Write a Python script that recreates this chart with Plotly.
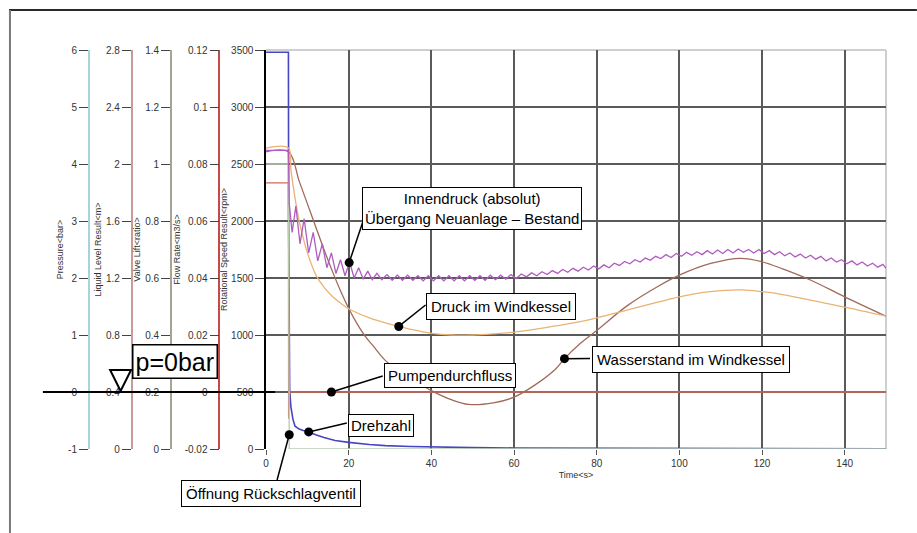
import plotly.graph_objects as go

# ---------------- data ----------------
# Rotational speed (rpm)
speed_t = [0, 5.4, 5.45, 5.55, 5.7, 6.0, 6.5, 7.0, 8.0, 9.0, 10.3, 12, 14, 16.7, 20, 25, 28.8, 35, 40, 50, 60, 80, 100, 120, 150]
speed_rpm = [3480, 3480, 2000, 900, 520, 370, 260, 200, 175, 162, 150, 125, 100, 75, 58, 40, 30, 22, 18, 12, 9, 6, 4, 3, 2]

# Pump flow rate (m3/s)
flow_t = [0, 5.4, 5.45, 5.6, 150]
flow_q = [0.0734, 0.0734, -0.0093, 0.0, 0.0]

# Check valve lift (ratio)
lift_t = [0, 5.4, 5.6, 150]
lift_r = [1.0, 1.0, 0.0, 0.0]

# Water level in air vessel (m)
level_t = [0, 5.4, 8, 10, 12, 14, 16, 18, 20, 22, 24, 26, 28.9, 32, 36, 40, 45, 49, 55, 60, 65, 70, 72.2, 76,
           80, 87.5, 95, 100, 107.6, 114.8, 120, 125, 131.7, 140, 150]
level_m = [2.086, 2.086, 1.88, 1.72, 1.56, 1.40, 1.25, 1.11, 0.986, 0.88, 0.79, 0.72, 0.62, 0.55, 0.48, 0.41,
           0.344, 0.313, 0.324, 0.364, 0.448, 0.56, 0.634, 0.74, 0.832, 1.008, 1.144, 1.22, 1.302, 1.338,
           1.314, 1.264, 1.186, 1.068, 0.932]

# Pressure in air vessel (bar)
vessel_t = [0, 5.4, 6, 7, 8, 9, 10, 12, 14, 16, 18, 20, 25, 30, 35, 40, 45, 50, 55, 60, 65, 70, 75, 80,
            87.5, 95, 100, 107.5, 115, 120, 125, 131.7, 140, 150]
vessel_bar = [4.28, 4.28, 3.90, 3.40, 3.00, 2.70, 2.44, 2.06, 1.84, 1.68, 1.56, 1.46, 1.30, 1.19, 1.10, 1.03,
              1.00, 1.00, 1.02, 1.05, 1.10, 1.16, 1.22, 1.30, 1.44, 1.58, 1.67, 1.76, 1.79, 1.76, 1.71,
              1.61, 1.49, 1.33]

# Internal pressure (absolute, bar) - oscillating
inner_t = [0, 5.4, 5.6, 6.3, 7.2, 8.2, 9.2, 10.3, 11.4, 12.5, 13.6, 14.7, 15.8, 16.9, 18.0, 19.1, 20.2, 21.3,
           22.4, 23.5, 24.6, 25.7, 26.8,
           28.0, 29.25, 30.5, 31.75, 33.0, 34.25, 35.5, 36.75, 38.0, 39.25,
           40.5, 41.75, 43.0, 44.25, 45.5, 46.75, 48.0, 49.25, 50.5, 51.75,
           53.0, 54.25, 55.5, 56.75, 58.0, 59.25, 60.5, 61.75, 63.0, 64.25,
           65.5, 66.75, 68.0, 69.25, 70.5, 71.75, 73.0, 74.25, 75.5, 76.75,
           78.0, 79.25, 80.5, 81.75, 83.0, 84.25, 85.5, 86.75, 88.0, 89.25,
           90.5, 91.75, 93.0, 94.25, 95.5, 96.75, 98.0, 99.25, 100.5, 101.75,
           103.0, 104.25, 105.5, 106.75, 108.0, 109.25, 110.5, 111.75, 113.0, 114.25,
           115.5, 116.75, 118.0, 119.25, 120.5, 121.75, 123.0, 124.25, 125.5, 126.75,
           128.0, 129.25, 130.5, 131.75, 133.0, 134.25, 135.5, 136.75, 138.0, 139.25,
           140.5, 141.75, 143.0, 144.25, 145.5, 146.75, 148.0, 149.25, 150.0]
inner_bar = [4.24, 4.24, 3.30, 2.80, 3.26, 2.60, 3.04, 2.44, 2.80, 2.30, 2.60, 2.18, 2.44, 2.08, 2.32, 2.04,
             2.28, 2.00, 2.18, 1.98, 2.12, 1.97, 2.08,
             1.97, 2.06, 1.96, 2.05, 1.96, 2.05, 1.96, 2.04, 1.95, 2.04,
             1.95, 2.04, 1.95, 2.04, 1.95, 2.04, 1.95, 2.04, 1.96, 2.04,
             1.96, 2.05, 1.97, 2.05, 1.98, 2.06, 1.99, 2.07, 2.02, 2.09,
             2.04, 2.11, 2.06, 2.13, 2.08, 2.15, 2.10, 2.17, 2.12, 2.19,
             2.14, 2.21, 2.16, 2.23, 2.18, 2.26, 2.22, 2.29, 2.25, 2.32,
             2.28, 2.35, 2.31, 2.38, 2.34, 2.41, 2.36, 2.43, 2.38, 2.45,
             2.40, 2.46, 2.41, 2.48, 2.42, 2.49, 2.43, 2.50, 2.44, 2.51,
             2.45, 2.50, 2.44, 2.50, 2.43, 2.48, 2.41, 2.46, 2.39, 2.44,
             2.37, 2.42, 2.35, 2.40, 2.33, 2.38, 2.30, 2.35, 2.28, 2.32,
             2.25, 2.30, 2.23, 2.28, 2.21, 2.26, 2.19, 2.24, 2.17]

# Tick values / labels
time_ticks = [0, 20, 40, 60, 80, 100, 120, 140]
rpm_ticks = [0, 500, 1000, 1500, 2000, 2500, 3000, 3500]
rpm_labels = ["0", "500", "1000", "1500", "2000", "2500", "3000", "3500"]
flow_ticks = [-0.02, 0, 0.02, 0.04, 0.06, 0.08, 0.1, 0.12]
flow_labels = ["-0.02", "0", "0.02", "0.04", "0.06", "0.08", "0.1", "0.12"]
lift_ticks = [0, 0.2, 0.4, 0.6, 0.8, 1, 1.2, 1.4]
lift_labels = ["0", "0.2", "0.4", "0.6", "0.8", "1", "1.2", "1.4"]
level_ticks = [0, 0.4, 0.8, 1.2, 1.6, 2, 2.4, 2.8]
level_labels = ["0", "0.4", "0.8", "1.2", "1.6", "2", "2.4", "2.8"]
pres_ticks = [-1, 0, 1, 2, 3, 4, 5, 6]
pres_labels = ["-1", "0", "1", "2", "3", "4", "5", "6"]

# Callout labels: text, dot (time, value on its own axis)
callouts = [
    ("Innendruck (absolut)<br>Übergang Neuanlage – Bestand", 20.1, 2.27, "pres"),
    ("Druck im Windkessel", 32.1, 1.15, "pres"),
    ("Wasserstand im Windkessel", 72.2, 0.634, "level"),
    ("Pumpendurchfluss", 15.8, 0.0, "flow"),
    ("Drehzahl", 10.3, 150, "rpm"),
    ("Öffnung Rückschlagventil", 5.6, 0.05, "lift"),
]

# ---------------- layout geometry ----------------
W, H = 917, 533
ML, MR, MT, MB = 0, 31, 50, 84
PW, PH = W - ML - MR, H - MT - MB


def px(x):
    return (x - ML) / PW


def py(y):
    return (H - MB - y) / PH


X0 = px(264)
FONT = "Liberation Sans, Arial, sans-serif"
TXT = "#333333"

ranges = {"rpm": (0, 3500), "flow": (-0.02, 0.12), "lift": (0, 1.4), "level": (0, 2.8), "pres": (-1, 6)}
yref = {"rpm": "y", "flow": "y2", "lift": "y3", "level": "y4", "pres": "y5"}

fig = go.Figure()

fig.add_trace(go.Scatter(x=speed_t, y=speed_rpm, mode="lines", yaxis="y",
                         line=dict(color="#4646c2", width=1.6), name="Drehzahl"))
fig.add_trace(go.Scatter(x=flow_t, y=flow_q, mode="lines", yaxis="y2",
                         line=dict(color="#d06a5c", width=1.3), name="Pumpendurchfluss"))
fig.add_trace(go.Scatter(x=lift_t, y=lift_r, mode="lines", yaxis="y3",
                         line=dict(color="#b9cdb0", width=1.3), name="Ventilhub"))
fig.add_trace(go.Scatter(x=level_t, y=level_m, mode="lines", yaxis="y4", line_shape="spline",
                         line=dict(color="#a06a5a", width=1.3), name="Wasserstand"))
fig.add_trace(go.Scatter(x=vessel_t, y=vessel_bar, mode="lines", yaxis="y5", line_shape="spline",
                         line=dict(color="#eab274", width=1.3), name="Druck Windkessel"))
fig.add_trace(go.Scatter(x=inner_t, y=inner_bar, mode="lines", yaxis="y5",
                         line=dict(color="#b05cc0", width=1.3), name="Innendruck"))

# dots for the callouts
for text, t, v, ax in callouts:
    fig.add_trace(go.Scatter(x=[t], y=[v], mode="markers", yaxis=yref[ax], cliponaxis=False,
                             marker=dict(color="black", size=9), showlegend=False))


def axis_common(title, ticks, labels, rng, color):
    return dict(
        range=list(rng), tickmode="array", tickvals=ticks, ticktext=labels,
        showline=True, linecolor=color, linewidth=1.5,
        ticks="outside", ticklen=9, tickwidth=1, tickcolor="#444",
        tickfont=dict(family=FONT, size=10, color=TXT),
        title=dict(text=title, font=dict(family=FONT, size=9, color=TXT), standoff=2),
        zeroline=False, showgrid=False, fixedrange=True,
    )


yaxis = axis_common("Rotational Speed Result&lt;rpm&gt;", rpm_ticks, rpm_labels, ranges["rpm"], "black")
yaxis.update(anchor="x", showgrid=True, gridcolor="#5a5a5a", gridwidth=1.5)
yaxis2 = axis_common("Flow Rate&lt;m3/s&gt;", flow_ticks, flow_labels, ranges["flow"], "#c44a4a")
yaxis2.update(anchor="free", overlaying="y", position=px(217), side="left")
yaxis3 = axis_common("Valve Lift&lt;ratio&gt;", lift_ticks, lift_labels, ranges["lift"], "#a8a494")
yaxis3.update(anchor="free", overlaying="y", position=px(168.5), side="left")
yaxis4 = axis_common("Liquid Level Result&lt;m&gt;", level_ticks, level_labels, ranges["level"], "#c99a9a")
yaxis4.update(anchor="free", overlaying="y", position=px(129), side="left")
yaxis5 = axis_common("Pressure&lt;bar&gt;", pres_ticks, pres_labels, ranges["pres"], "#a9d3dc")
yaxis5.update(anchor="free", overlaying="y", position=px(86), side="left")

xaxis = dict(
    domain=[X0, 1], range=[0, 150], anchor="y", tickmode="array", tickvals=time_ticks,
    showgrid=True, gridcolor="#5a5a5a", gridwidth=1.5, zeroline=False, showline=False,
    ticks="outside", ticklen=5, tickcolor="#555", tickfont=dict(family=FONT, size=10, color=TXT),
    title=dict(text="Time&lt;s&gt;", font=dict(family=FONT, size=9, color=TXT), standoff=3),
    fixedrange=True,
)

shapes = []
# light border at top and right edge of plot
for x0, y0, x1, y1 in [(X0, 1, 1, 1), (1, 0, 1, 1)]:
    shapes.append(dict(type="line", xref="paper", yref="paper", x0=x0, y0=y0, x1=x1, y1=y1,
                       line=dict(color="#cfcfcf", width=2), layer="between"))
# outer frame (top + left)
shapes.append(dict(type="line", xref="paper", yref="paper", x0=px(6), y0=py(10), x1=px(917), y1=py(10),
                   line=dict(color="#2a2a2a", width=2)))
shapes.append(dict(type="line", xref="paper", yref="paper", x0=px(7), y0=py(10), x1=px(7), y1=py(533),
                   line=dict(color="#7a7a7a", width=2)))
# p = 0 bar line and triangle
shapes.append(dict(type="line", xref="paper", yref="y5", x0=px(40), y0=0, x1=px(273), y1=0,
                   line=dict(color="black", width=2)))
shapes.append(dict(type="path", xref="paper", yref="paper",
                   path=f"M {px(107.5)} {py(370)} L {px(128.5)} {py(370)} L {px(118)} {py(391)} Z",
                   line=dict(color="black", width=2), fillcolor="white"))

# callout boxes: centre (pixel), line end at box edge (pixel), inner padding
box_geo = [((471, 208), (361, 222), 2),
           ((500, 306), (424, 305), 4),
           ((690, 359.7), (589, 358.5), 4),
           ((448.3, 375.8), (381, 376), 3),
           ((379, 425), (345, 423), 2),
           ((268.5, 493), (275, 480), 4)]

annotations = []
for (text, t, v, ax), ((cx, cy), (ex, ey), pad) in zip(callouts, box_geo):
    lo, hi = ranges[ax]
    dxp = X0 + t / 150 * (1 - X0)
    dyp = (v - lo) / (hi - lo)
    shapes.append(dict(type="line", xref="paper", yref="paper", x0=dxp, y0=dyp, x1=px(ex), y1=py(ey),
                       line=dict(color="black", width=1.5)))
    annotations.append(dict(xref="paper", yref="paper", x=px(cx), y=py(cy), text=text, showarrow=False,
                            xanchor="center", yanchor="middle", align="center",
                            font=dict(family=FONT, size=15, color="black"),
                            bordercolor="black", borderwidth=1, borderpad=pad, bgcolor="white"))

annotations.append(dict(xref="paper", yref="paper", x=px(173), y=py(361.7), text="p=0bar", showarrow=False,
                        xanchor="center", yanchor="middle",
                        font=dict(family=FONT, size=25, color="black"),
                        bordercolor="black", borderwidth=1.5, borderpad=2, bgcolor="white"))

fig.update_layout(
    width=W, height=H, margin=dict(l=ML, r=MR, t=MT, b=MB, pad=0),
    paper_bgcolor="white", plot_bgcolor="white", showlegend=False,
    xaxis=xaxis, yaxis=yaxis, yaxis2=yaxis2, yaxis3=yaxis3, yaxis4=yaxis4, yaxis5=yaxis5,
    shapes=shapes, annotations=annotations,
    font=dict(family=FONT, color=TXT),
)

fig.write_html("out.html", config={"displayModeBar": False},
               post_script="document.body.style.margin='0';document.body.style.overflow='hidden';")
